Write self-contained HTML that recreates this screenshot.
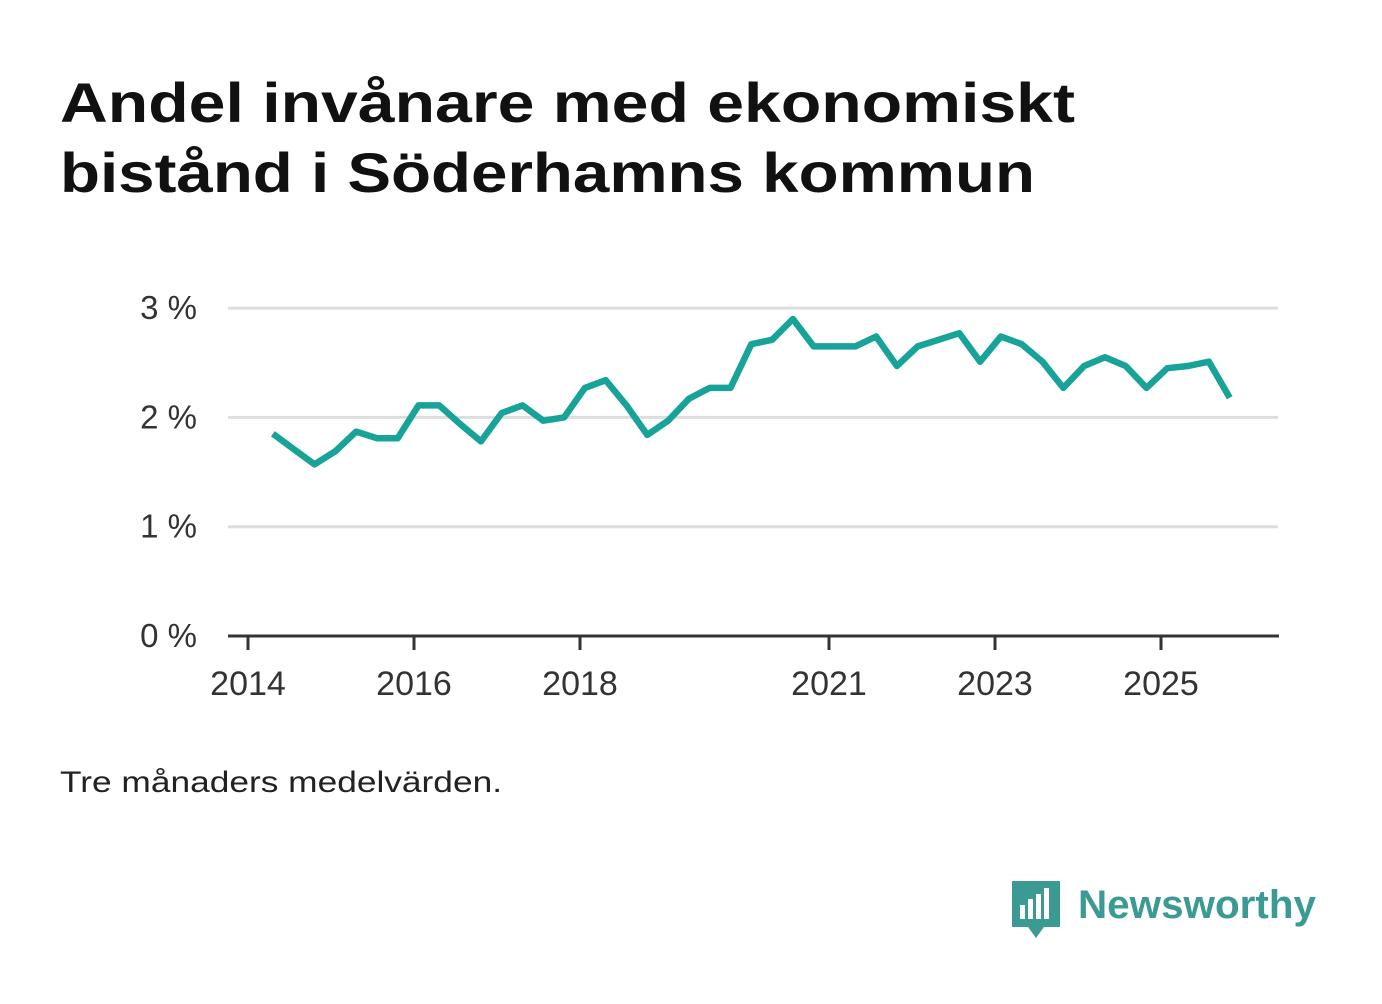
<!DOCTYPE html>
<html><head><meta charset="utf-8"><style>
body{margin:0;background:#fff;width:1382px;height:999px;overflow:hidden;font-family:"Liberation Sans",sans-serif}
</style></head><body>
<svg width="1382" height="999">
<text x="60" y="122" font-size="56" font-weight="bold" fill="#111" textLength="1015" lengthAdjust="spacingAndGlyphs">Andel invånare med ekonomiskt</text>
<text x="60" y="192" font-size="56" font-weight="bold" fill="#111" textLength="975" lengthAdjust="spacingAndGlyphs">bistånd i Söderhamns kommun</text>
<g id="grid"></g><g id="xax"></g>
<path id="line" fill="none" stroke="#17a398" stroke-width="6.5" stroke-linejoin="round"/>
<text x="60" y="792" font-size="30" fill="#222" textLength="442" lengthAdjust="spacingAndGlyphs">Tre månaders medelvärden.</text>
<g>
<path d="M1012 881 h48 v46 h-16 l-8 11 l-8 -11 h-16 z" fill="#3b9a94"/>
<rect x="1020" y="905" width="5" height="14" fill="#fff"/><rect x="1028" y="899" width="5" height="20" fill="#fff"/><rect x="1036" y="894" width="5" height="25" fill="#fff"/><rect x="1044" y="888" width="5" height="31" fill="#fff"/>
<text x="1078" y="918" font-size="40" font-weight="bold" fill="#3b9a94" textLength="238" lengthAdjust="spacingAndGlyphs">Newsworthy</text>
</g>
</svg>
<script>
const yTicks=[0,1,2,3];
const yLabels=["0 %","1 %","2 %","3 %"];
const xTicks=[2014,2016,2018,2021,2023,2025];
const startYear=2014.3;
const values=[1.85,1.71,1.57,1.69,1.87,1.81,1.81,2.11,2.11,1.94,1.78,2.04,2.11,1.97,2.00,2.27,2.34,2.11,1.84,1.97,2.17,2.27,2.27,2.67,2.71,2.90,2.65,2.65,2.65,2.74,2.47,2.65,2.71,2.77,2.51,2.74,2.67,2.51,2.27,2.47,2.55,2.47,2.27,2.45,2.47,2.51,2.18];
const ns="http://www.w3.org/2000/svg";
const y=v=>636-v*109.3;
const x=t=>248+(t-2014)*83;
const g=document.getElementById('grid');
yTicks.forEach((v,i)=>{
 if(v>0){const l=document.createElementNS(ns,'line');
 
 
 l.setAttribute('x1',228);l.setAttribute('x2',1278);l.setAttribute('y1',y(v));l.setAttribute('y2',y(v));l.setAttribute('stroke','#ddd');l.setAttribute('stroke-width',3);g.appendChild(l);}
 const t=document.createElementNS(ns,'text');
 
 
 t.setAttribute('x',197);t.setAttribute('y',y(v)+11);t.setAttribute('text-anchor','end');t.setAttribute('font-size',33);t.setAttribute('fill','#333');t.textContent=yLabels[i];g.appendChild(t);
});
const xa=document.getElementById('xax');
const ax=document.createElementNS(ns,'line');


ax.setAttribute('x1',228);ax.setAttribute('x2',1279);ax.setAttribute('y1',636);ax.setAttribute('y2',636);ax.setAttribute('stroke','#333');ax.setAttribute('stroke-width',3);xa.appendChild(ax);
xTicks.forEach(v=>{
 const l=document.createElementNS(ns,'line');
 
 
 l.setAttribute('x1',x(v));l.setAttribute('x2',x(v));l.setAttribute('y1',636);l.setAttribute('y2',650);l.setAttribute('stroke','#333');l.setAttribute('stroke-width',3);xa.appendChild(l);
 const t=document.createElementNS(ns,'text');
 
 
 t.setAttribute('x',x(v));t.setAttribute('y',695);t.setAttribute('text-anchor','middle');t.setAttribute('font-size',34);t.setAttribute('fill','#333');t.textContent=v;xa.appendChild(t);
});
document.getElementById('line').setAttribute('d',values.map((v,i)=>(i?'L':'M')+x(startYear+i*0.2506).toFixed(1)+' '+y(v).toFixed(1)).join(' '));
</script>
</body></html>
